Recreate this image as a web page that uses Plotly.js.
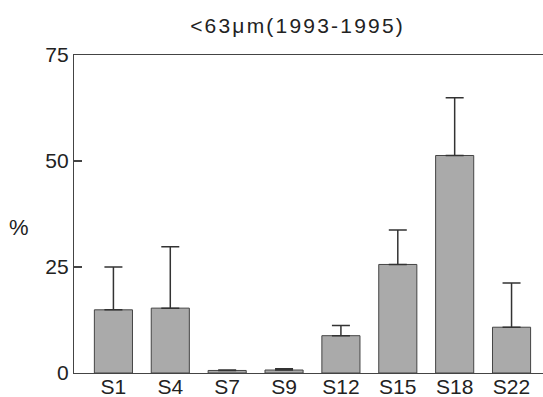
<!DOCTYPE html>
<html>
<head>
<meta charset="utf-8">
<script src="https://cdn.plot.ly/plotly-3.0.1.min.js"></script>
<style>html,body{margin:0;padding:0;background:#fff}#chart{width:543px;height:397px}
#chart .gtitle{letter-spacing:2.2px}</style>
</head>
<body>
<div id="chart"></div>
<script>
const categories = ["S1", "S4", "S7", "S9", "S12", "S15", "S18", "S22"];
const values = [14.9, 15.3, 0.6, 0.7, 8.8, 25.6, 51.3, 10.8];
const errorsUp = [10.1, 14.5, 0.1, 0.3, 2.4, 8.1, 13.6, 10.4];
const yTicks = [0, 25, 50, 75];

const trace = {
  type: "bar",
  x: categories,
  y: values,
  width: 0.67,
  marker: {color: "#aaaaaa", line: {color: "#444444", width: 1}},
  error_y: {type: "data", symmetric: false, array: errorsUp, arrayminus: categories.map(() => 0),
            color: "#333333", thickness: 1.5, width: 9},
  hoverinfo: "none"
};

const layout = {
  width: 543, height: 397,
  margin: {l: 74, r: 0, t: 55, b: 24, pad: 0},
  paper_bgcolor: "#fff", plot_bgcolor: "#fff",
  font: {family: "Liberation Sans, Arial, sans-serif", color: "#222", size: 21},
  title: {text: "&lt;63μm(1993-1995)", x: 0.548, xanchor: "center", y: 0.935, yanchor: "middle", yref: "container",
          font: {size: 21, color: "#222"}},
  showlegend: false,
  xaxis: {type: "category", range: [-0.693, 7.553], showline: true, linecolor: "#444", linewidth: 1.2,
          mirror: true, ticks: "", showgrid: false, zeroline: false, fixedrange: true,
          tickfont: {size: 21, color: "#222"}, ticklabelstandoff: -5},
  yaxis: {range: [0, 75], tickvals: yTicks, ticktext: yTicks.map(String), ticks: "inside", ticklen: 8,
          tickwidth: 1.2, tickcolor: "#444", showline: true, linecolor: "#444", linewidth: 1.2,
          showgrid: false, zeroline: false, fixedrange: true, tickfont: {size: 21, color: "#222"}},
  annotations: [{text: "%", xref: "paper", yref: "paper", x: -0.1166, y: 0.4565, xanchor: "center", yanchor: "middle",
                 showarrow: false, font: {size: 22, color: "#222"}}]
};

Plotly.newPlot("chart", [trace], layout, {displayModeBar: false, staticPlot: true});
</script>
</body>
</html>
